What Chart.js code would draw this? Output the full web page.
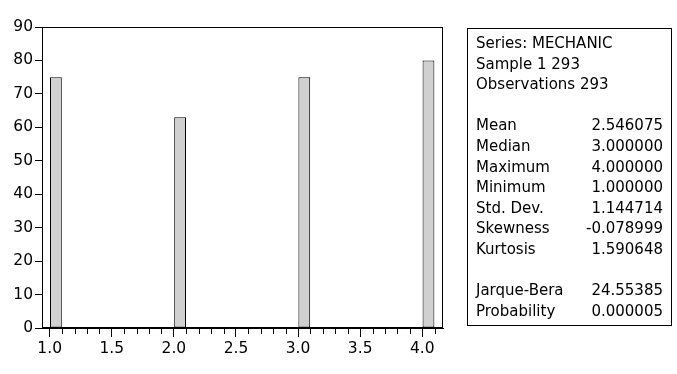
<!DOCTYPE html>
<html><head><meta charset="utf-8">
<script src="https://cdn.jsdelivr.net/npm/chart.js@4/dist/chart.umd.min.js"></script>
<style>
html,body{margin:0;padding:0;background:#fff;}
#wrap{position:relative;width:677px;height:374px;overflow:hidden;}
canvas{position:absolute;left:0;top:0;}
#stats{position:absolute;left:467px;top:28px;width:205px;height:298px;box-sizing:border-box;border:1px solid #000;padding:4px 8px 0 8px;font-family:"DejaVu Sans";font-size:15px;line-height:20.6px;color:#000;}
.row{display:flex;justify-content:space-between;height:20.6px;white-space:nowrap;}
</style></head><body>
<div id="wrap"><canvas id="c" width="677" height="374"></canvas><div id="stats"></div></div>
<script>
// ---- data ----
const binStarts = [1.0, 2.0, 3.0, 4.0];
const binWidth = 0.1;
const counts = [75, 63, 75, 80];
const xTickValues = [1.0,1.1,1.2,1.3,1.4,1.5,1.6,1.7,1.8,1.9,2.0,2.1,2.2,2.3,2.4,2.5,2.6,2.7,2.8,2.9,3.0,3.1,3.2,3.3,3.4,3.5,3.6,3.7,3.8,3.9,4.0,4.1];
const xMajorLabels = ['1.0','1.5','2.0','2.5','3.0','3.5','4.0'];
const yTickValues = [0,10,20,30,40,50,60,70,80,90];
const headerLines = ['Series: MECHANIC','Sample 1 293','Observations 293'];
const statLabels = ['Mean','Median','Maximum','Minimum','Std. Dev.','Skewness','Kurtosis'];
const statValues = ['2.546075','3.000000','4.000000','1.000000','1.144714','-0.078999','1.590648'];
const testLabels = ['Jarque-Bera','Probability'];
const testValues = ['24.55385','0.000005'];

// ---- stats box ----
const box = document.getElementById('stats');
function addRow(l, r){
  const d = document.createElement('div'); d.className='row';
  const a = document.createElement('span'); a.textContent = l;
  const b = document.createElement('span'); b.textContent = r || '';
  d.appendChild(a); d.appendChild(b); box.appendChild(d);
}
headerLines.forEach(h => addRow(h, ''));
addRow('\u00a0','');
statLabels.forEach((l,i) => addRow(l, statValues[i]));
addRow('\u00a0','');
testLabels.forEach((l,i) => addRow(l, testValues[i]));

// ---- chart ----
const FONT = {family:'DejaVu Sans', size:15.5};
const framePlugin = {
  id:'frame',
  afterDraw(chart){
    const {ctx, chartArea:a} = chart; const x = chart.scales.x;
    ctx.save();
    ctx.strokeStyle='#000'; ctx.lineWidth=1;
    ctx.strokeRect(Math.round(a.left)+0.5, Math.round(a.top)+0.5, Math.round(a.right-a.left)-1, Math.round(a.bottom-a.top)-1);
    ctx.beginPath();
    x.ticks.forEach(t => {
      if (!t.major) {
        const px = Math.round(x.getPixelForValue(t.value))+0.5;
        ctx.moveTo(px, a.bottom); ctx.lineTo(px, a.bottom+6);
      }
    });
    ctx.stroke();
    ctx.restore();
  }
};

new Chart(document.getElementById('c'), {
  type:'bar',
  data:{ datasets:[{
    data: binStarts.map((s,i) => ({x: s + binWidth/2, y: counts[i]})),
    backgroundColor:'#d0d0d0', borderColor:'#000', borderWidth:1, borderSkipped:false,
    barPercentage:0.95, categoryPercentage:1.0
  }]},
  options:{
    responsive:false, animation:false, devicePixelRatio:1,
    layout:{padding:{left:0, top:27, right:234, bottom:0}},
    plugins:{legend:{display:false}, tooltip:{enabled:false}},
    scales:{
      x:{
        type:'linear', min:0.938, max:4.167, bounds:'data', offset:false,
        afterBuildTicks: s => { s.ticks = xTickValues.map(v => ({value:v, major: xMajorLabels.includes(v.toFixed(1))})); },
        afterFit: s => { s.height = 46; },
        ticks:{autoSkip:false, maxRotation:0, minRotation:0, padding:3, font:FONT, color:'#000',
          callback: v => { const s = Number(v).toFixed(1); return xMajorLabels.includes(s) ? s : ''; }},
        grid:{drawOnChartArea:false, drawTicks:true, tickLength:9, offset:false, tickColor: c => (c.tick && c.tick.major) ? '#000' : 'rgba(0,0,0,0)'},
        border:{display:true, color:'#000', width:1}
      },
      y:{
        min:0, max:90,
        afterBuildTicks: s => { s.ticks = yTickValues.map(v => ({value:v})); },
        afterFit: s => { s.width = 42; },
        ticks:{padding:2, font:FONT, color:'#000'},
        grid:{drawOnChartArea:false, drawTicks:true, tickLength:7, tickColor:'#000'},
        border:{display:true, color:'#000', width:1}
      }
    }
  },
  plugins:[framePlugin]
});
</script>
</body></html>
